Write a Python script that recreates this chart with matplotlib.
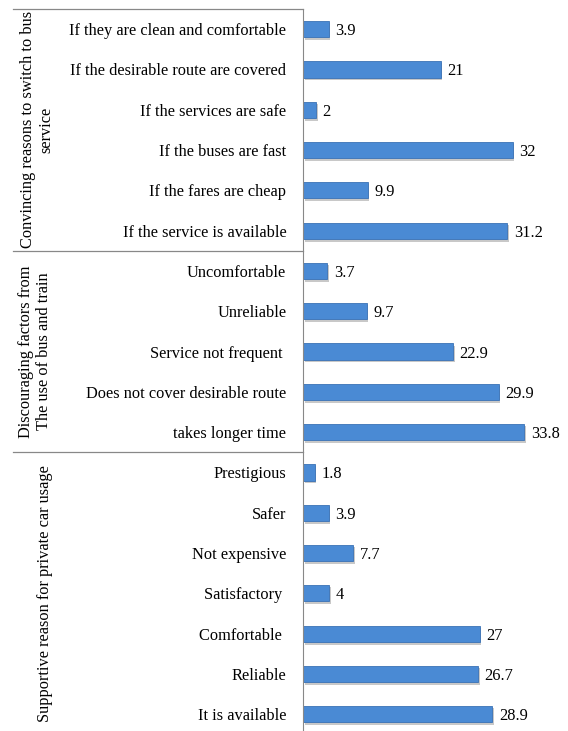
import numpy as np
import matplotlib.pyplot as plt
from matplotlib.transforms import blended_transform_factory

plt.rcParams['font.family'] = ['Liberation Serif', 'DejaVu Serif']

labels = ['If they are clean and comfortable', 'If the desirable route are covered',
          'If the services are safe', 'If the buses are fast', 'If the fares are cheap',
          'If the service is available',
          'Uncomfortable', 'Unreliable', 'Service not frequent ',
          'Does not cover desirable route', 'takes longer time',
          'Prestigious', 'Safer', 'Not expensive', 'Satisfactory ', 'Comfortable ',
          'Reliable', 'It is available']
values = [3.9, 21, 2, 32, 9.9, 31.2,
          3.7, 9.7, 22.9, 29.9, 33.8,
          1.8, 3.9, 7.7, 4, 27, 26.7, 28.9]
value_text = ['3.9', '21', '2', '32', '9.9', '31.2',
              '3.7', '9.7', '22.9', '29.9', '33.8',
              '1.8', '3.9', '7.7', '4', '27', '26.7', '28.9']
groups = ['Convincing reasons to switch to bus\nservice',
          'Discouraging factors from\nThe use of bus and train',
          'Supportive reason for private car usage']
group_sizes = [6, 5, 7]

W, H = 568, 731
fs = 11.8
fig = plt.figure(figsize=(W / 100, H / 100), dpi=100)
left, top = 303, 9
ax = fig.add_axes([left / W, 0, (565 - left) / W, (H - top) / H])

y = np.arange(len(values))
bar_color = '#4a8ad4'
# soft shadow behind bars
ax.barh(y + 0.06, values, height=0.42, left=0.25, color='#c8c8c8', zorder=1)
ax.barh(y, values, height=0.4, color=bar_color, edgecolor='#3a72b5', linewidth=0.6, zorder=2)

for yi, v, t in zip(y, values, value_text):
    ax.text(v + 1.0, yi, t, va='center_baseline', ha='left', fontsize=fs, zorder=3)

ax.set_xlim(0, 40)
ax.set_ylim(-0.5 + (H - top) / 40.3, -0.5)
ax.set_yticks(y)
ax.set_yticklabels(labels, fontsize=fs)
ax.tick_params(axis='y', length=0, pad=12)
ax.set_xticks([])
for s in ['right', 'bottom', 'top']:
    ax.spines[s].set_visible(False)
ax.spines['left'].set_color('#888888')

# group separators and labels
trans = blended_transform_factory(fig.transFigure, ax.transData)
bounds = np.cumsum([0] + group_sizes) - 0.5
for b in bounds[:-1]:
    ax.plot([13 / W, left / W], [b, b], transform=trans, color='#888888',
            lw=0.9, clip_on=False)

label_x = [37, 35, 45]
start = 0
for g, n, lx in zip(groups, group_sizes, label_x):
    mid = start + (n - 1) / 2
    ax.text(lx / W, mid, g, transform=trans, rotation=90, ha='center', va='center',
            fontsize=fs, linespacing=1.2, multialignment='center')
    start += n

fig.savefig('out.png', dpi=100)
